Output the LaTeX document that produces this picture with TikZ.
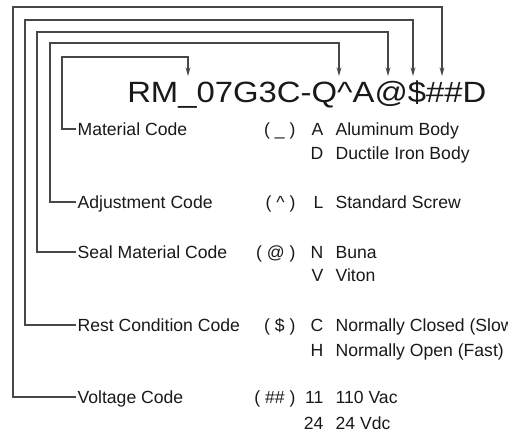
\documentclass[tikz,border=0pt]{standalone}
\usepackage{fontspec}
\setmainfont{Liberation Sans}
\usepackage{graphicx}
\usetikzlibrary{arrows.meta,positioning}
\tikzset{
>={Stealth[length=6.5pt,width=3.6pt]},
  codetext/.style={
    font=\fontsize{22}{26}\selectfont,
    text=black!90,
    inner sep=0pt},
  label/.style={
    font=\fontsize{13.2}{16}\selectfont,
    text=black!90,
    text height=9.4pt,
    text depth=0pt,
    inner sep=1pt},
  field/.style={label, anchor=west},
  symb/.style={label, anchor=east},
  opt/.style={label, anchor=east},
  desc/.style={label, anchor=west},
  line/.style={draw, black!72, line width=0.8pt},
}

\begin{document}
\begin{tikzpicture}[x=0.75pt,y=-0.75pt]
\clip (0,0) rectangle (508,442);
\useasboundingbox (0,0) rectangle (508,442);

\node[codetext, anchor=base west] (code) at (127,103)
  {\scalebox{1.12}[1]{RM\_07G3C-Q\textasciicircum A@\$\#\#D}};

% arrow tips above the code
\coordinate (tipM) at (188,76);
\coordinate (tipA) at (339,76);
\coordinate (tipS) at (388,76);
\coordinate (tipR) at (413,76);
\coordinate (tipV) at (442,76);

% field names
\node[field] (matl) at (76,129) {Material Code};
\node[field] (adj)  at (76,202) {Adjustment Code};
\node[field] (seal) at (76,252) {Seal Material Code};
\node[field] (rest) at (76,325) {Rest Condition Code};
\node[field] (volt) at (76,397) {Voltage Code};

% symbols and options
\node[symb] (smatl) at (297,129) {( \_ )};
\node[opt]  (oA) at (325,129) {A};
\node[desc] (dA) at (334,129) {Aluminum Body};
\node[opt]  (oD) at (325,153) {D};
\node[desc] (dD) at (334,153) {Ductile Iron Body};

\node[symb] (sadj) at (297,202) {( \textasciicircum\ )};
\node[opt]  (oL) at (325,202) {L};
\node[desc] (dL) at (334,202) {Standard Screw};

\node[symb] (sseal) at (297,252) {( @ )};
\node[opt]  (oN) at (325,252) {N};
\node[desc] (dN) at (334,252) {Buna};
\node[opt]  (oV) at (325,275) {V};
\node[desc] (dV) at (334,275) {Viton};

\node[symb] (srest) at (297,325) {( \$ )};
\node[opt]  (oC) at (325,325) {C};
\node[desc] (dC) at (334,325) {Normally Closed (Slow)};
\node[opt]  (oH) at (325,350) {H};
\node[desc] (dH) at (334,350) {Normally Open (Fast)};

\node[symb] (svolt) at (297,397) {( \#\# )};
\node[opt]  (o11) at (325,397) {11};
\node[desc] (d11) at (334,397) {110 Vac};
\node[opt]  (o24) at (325,423) {24};
\node[desc] (d24) at (334,423) {24 Vdc};

% connectors
\draw[line, ->] (matl.west) -| (62,57) -| (tipM);
\draw[line, ->] (adj.west)  -| (50,43) -| (tipA);
\draw[line, ->] (seal.west) -| (37,32) -| (tipS);
\draw[line, ->] (rest.west) -| (25,20) -| (tipR);
\draw[line, ->] (volt.west) -| (13,7)  -| (tipV);

\end{tikzpicture}
\end{document}
